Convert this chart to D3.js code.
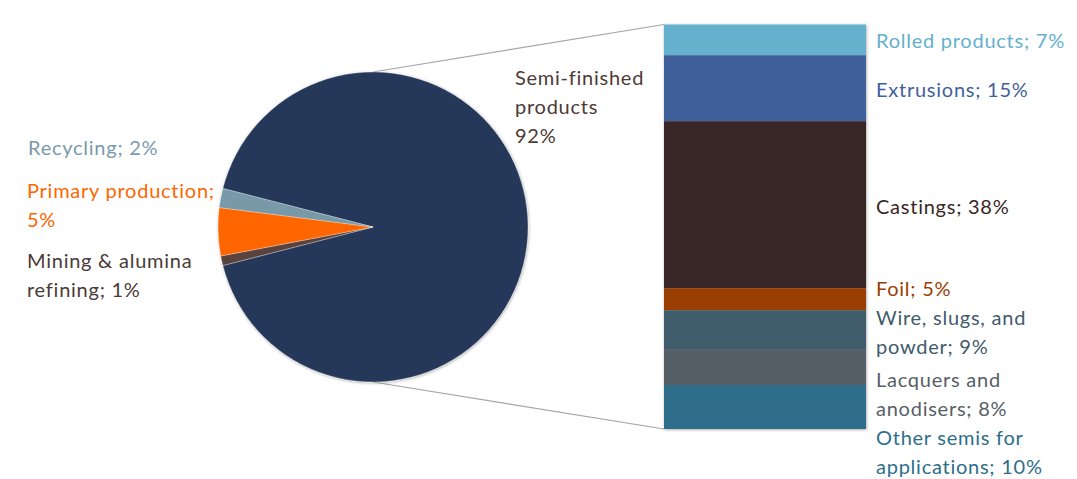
<!DOCTYPE html>
<html>
<head>
<meta charset="utf-8">
<script src="https://cdn.jsdelivr.net/npm/d3@7"></script>
<style>
  html, body { margin: 0; padding: 0; background: #fff; }
  svg { display: block; }
  text { font-family: Lato, "Open Sans", sans-serif; font-size: 20px; letter-spacing: 0.75px; }
</style>
</head>
<body>
<svg id="chart" width="1077" height="479"></svg>
<script>
// Value chain stages (main pie), clockwise starting with the split-out stage
const stageNames  = ["Semi-finished products", "Mining & alumina refining", "Primary production", "Recycling"];
const stageValues = [92, 1, 5, 2];
const stageColors = ["#26385a", "#5a423e", "#ff6600", "#7799a8"];
const stageLabels = [
  ["Semi-finished", "products", "92%"],
  ["Mining & alumina", "refining; 1%"],
  ["Primary production;", "5%"],
  ["Recycling; 2%"]
];
const stageLabelColors = ["#4d3a35", "#4a3a37", "#ff6600", "#7a9aab"];

// Breakdown of semi-finished products (stacked bar, top to bottom)
const semiNames  = ["Rolled products", "Extrusions", "Castings", "Foil", "Wire, slugs, and powder", "Lacquers and anodisers", "Other semis for applications"];
const semiValues = [7, 15, 38, 5, 9, 8, 10];
const semiColors = ["#65b0cd", "#3f619b", "#392826", "#993d00", "#405b6b", "#575e66", "#2d6e8a"];
const semiLabels = [
  ["Rolled products; 7%"],
  ["Extrusions; 15%"],
  ["Castings; 38%"],
  ["Foil; 5%"],
  ["Wire, slugs, and", "powder; 9%"],
  ["Lacquers and", "anodisers; 8%"],
  ["Other semis for", "applications; 10%"]
];

const svg = d3.select("#chart");

const defs = svg.append("defs");
const shadow = defs.append("filter").attr("id", "soft").attr("x", "-10%").attr("y", "-10%").attr("width", "120%").attr("height", "120%");
shadow.append("feDropShadow").attr("dx", 0.6).attr("dy", 0.8).attr("stdDeviation", 1.4)
  .attr("flood-color", "#000").attr("flood-opacity", 0.35);

// ---- main pie ----
const cx = 373, cy = 227, r = 155;
const total = d3.sum(stageValues);
// centre the split-out stage on the right-hand side
const start = Math.PI / 2 - (stageValues[0] / total) * Math.PI;
const pie = d3.pie().sort(null).value(d => d.value)
  .startAngle(start).endAngle(start + 2 * Math.PI);
const arcs = pie(stageNames.map((n, i) => ({ name: n, value: stageValues[i], color: stageColors[i] })));
const arc = d3.arc().innerRadius(0).outerRadius(r);

// ---- stacked bar ----
const barX = 664, barW = 202;
const semiTotal = d3.sum(semiValues);
const y = d3.scaleLinear().domain([0, semiTotal]).range([24.5, 429]);
const cum = d3.cumsum([0, ...semiValues]);
const segs = semiNames.map((n, i) => ({ name: n, y0: cum[i], y1: cum[i + 1], color: semiColors[i] }));

// connector lines from the pie to the bar
const topPt = [cx, cy - r], botPt = [cx, cy + r];
svg.append("line").attr("x1", topPt[0]).attr("y1", topPt[1]).attr("x2", barX).attr("y2", y(0))
  .attr("stroke", "#a6a6a6").attr("stroke-width", 1.2);
svg.append("line").attr("x1", botPt[0]).attr("y1", botPt[1]).attr("x2", barX).attr("y2", y(semiTotal))
  .attr("stroke", "#a6a6a6").attr("stroke-width", 1.2);

svg.append("g").attr("transform", `translate(${cx},${cy})`).attr("filter", "url(#soft)")
  .selectAll("path").data(arcs).join("path")
  .attr("d", arc).attr("fill", d => d.data.color)
  .attr("stroke", "#ffffff").attr("stroke-opacity", 0.5).attr("stroke-width", 0.6);

svg.append("g").attr("filter", "url(#soft)")
  .selectAll("rect").data(segs).join("rect")
  .attr("x", barX).attr("width", barW)
  .attr("y", d => y(d.y0)).attr("height", d => y(d.y1) - y(d.y0))
  .attr("fill", d => d.color);

// ---- labels ----
function multiline(x, baseline, lines, color, lh) {
  const t = svg.append("text").attr("x", x).attr("y", baseline).attr("fill", color);
  lines.forEach((s, i) => t.append("tspan").attr("x", x).attr("dy", i === 0 ? 0 : lh).text(s));
}

// pie stage labels
const stageLabelPos = [[515, 85], [27, 268], [27, 198], [28, 155]];
stageLabels.forEach((lines, i) =>
  multiline(stageLabelPos[i][0], stageLabelPos[i][1], lines, stageLabelColors[i], 29));

// bar labels
const semiLabelBase = [48, 97, 214, 296, 325, 387, 445];
semiLabels.forEach((lines, i) =>
  multiline(876, semiLabelBase[i], lines, semiColors[i], 29));
</script>
</body>
</html>
